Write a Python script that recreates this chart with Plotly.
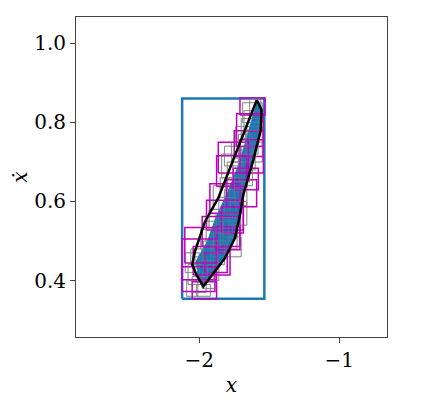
import plotly.graph_objects as go

# Outer (blue) enclosing box
outer_x = [-2.122, -1.535]
outer_y = [0.354, 0.861]

# Magenta boxes: x0, x1, y0, y1
mag_x0 = [-1.709, -1.733, -1.750, -1.864, -1.709, -1.876, -1.757, -1.924, -1.804, -1.948, -1.979, -1.840, -2.103, -2.122, -2.043, -2.122, -2.050, -1.876, -1.960]
mag_x1 = [-1.530, -1.542, -1.542, -1.649, -1.542, -1.661, -1.578, -1.709, -1.590, -1.685, -1.709, -1.685, -1.876, -1.876, -1.780, -1.888, -1.876, -1.709, -1.800]
mag_y0 = [0.819, 0.739, 0.714, 0.672, 0.672, 0.638, 0.630, 0.570, 0.587, 0.528, 0.486, 0.520, 0.444, 0.402, 0.414, 0.372, 0.354, 0.478, 0.420]
mag_y1 = [0.862, 0.822, 0.779, 0.750, 0.756, 0.716, 0.684, 0.645, 0.655, 0.603, 0.562, 0.587, 0.534, 0.505, 0.486, 0.435, 0.397, 0.537, 0.470]

# Grey boxes: x0, x1, y0, y1
grey_x0 = [-1.69, -1.70, -1.66, -1.72, -1.63, -1.84, -1.80, -1.76, -1.82, -1.72, -1.90, -1.86, -1.82, -1.78, -1.88,
           -1.95, -1.90, -1.85, -1.80, -1.97, -2.10, -2.08, -2.05, -2.00, -1.96, -2.02, -2.09, -1.94,
           -1.68, -1.64, -1.74, -1.77, -1.70, -1.85, -1.81, -1.93, -1.88, -1.83, -1.99, -1.92, -2.06, -2.03, -1.98, -1.91, -1.75, -1.67]
grey_x1 = [-1.55, -1.58, -1.55, -1.62, -1.55, -1.72, -1.68, -1.64, -1.70, -1.60, -1.78, -1.74, -1.70, -1.66, -1.76,
           -1.83, -1.78, -1.73, -1.70, -1.87, -2.00, -1.97, -1.95, -1.90, -1.87, -1.92, -2.01, -1.86,
           -1.57, -1.56, -1.64, -1.66, -1.62, -1.75, -1.71, -1.83, -1.79, -1.73, -1.90, -1.82, -1.98, -1.94, -1.89, -1.81, -1.66, -1.58]
grey_y0 = [0.80, 0.76, 0.74, 0.72, 0.70, 0.66, 0.63, 0.65, 0.69, 0.68, 0.58, 0.55, 0.57, 0.54, 0.52,
           0.49, 0.47, 0.48, 0.46, 0.45, 0.42, 0.39, 0.37, 0.40, 0.43, 0.36, 0.36, 0.40,
           0.78, 0.82, 0.74, 0.70, 0.64, 0.61, 0.60, 0.53, 0.50, 0.51, 0.48, 0.44, 0.44, 0.41, 0.38, 0.46, 0.59, 0.72]
grey_y1 = [0.85, 0.81, 0.79, 0.77, 0.75, 0.72, 0.70, 0.71, 0.74, 0.73, 0.64, 0.61, 0.63, 0.60, 0.57,
           0.55, 0.52, 0.54, 0.51, 0.50, 0.47, 0.44, 0.41, 0.45, 0.47, 0.39, 0.40, 0.44,
           0.83, 0.86, 0.79, 0.75, 0.70, 0.66, 0.66, 0.58, 0.56, 0.56, 0.53, 0.49, 0.48, 0.46, 0.42, 0.50, 0.65, 0.78]

# Filled reachable region (blue)
fill_x = [-1.589, -1.630, -1.710, -1.800, -1.880, -1.940, -2.020, -2.010, -1.970, -1.911, -1.816, -1.744, -1.709, -1.685, -1.613, -1.565, -1.560, -1.589]
fill_y = [0.850, 0.800, 0.700, 0.620, 0.560, 0.500, 0.450, 0.415, 0.390, 0.414, 0.457, 0.508, 0.566, 0.617, 0.706, 0.780, 0.830, 0.850]

# Black trajectory loop
loop_x = [-1.589, -1.864, -1.959, -2.031, -2.050, -2.019, -1.971, -1.911, -1.816, -1.744, -1.709, -1.685, -1.613, -1.560, -1.555, -1.589]
loop_y = [0.857, 0.609, 0.549, 0.473, 0.440, 0.414, 0.385, 0.414, 0.457, 0.508, 0.566, 0.617, 0.706, 0.781, 0.832, 0.857]

x_range = [-2.88, -0.659]
y_range = [0.257, 1.067]
x_ticks = [-2, -1]
y_ticks = [0.4, 0.6, 0.8, 1.0]


def boxes_path(x0s, x1s, y0s, y1s):
    xs, ys = [], []
    for a, b, c, d in zip(x0s, x1s, y0s, y1s):
        xs += [a, b, b, a, a, None]
        ys += [c, c, d, d, c, None]
    return xs, ys


fig = go.Figure()

gx, gy = boxes_path(grey_x0, grey_x1, grey_y0, grey_y1)
mx, my = boxes_path(mag_x0, mag_x1, mag_y0, mag_y1)
ox, oy = boxes_path([outer_x[0]], [outer_x[1]], [outer_y[0]], [outer_y[1]])

fig.add_trace(go.Scatter(x=ox, y=oy, mode="lines", line=dict(color="#1f77b4", width=2.5), hoverinfo="skip"))
fig.add_trace(go.Scatter(x=gx, y=gy, mode="lines", line=dict(color="#8c8c8c", width=1), hoverinfo="skip"))
fig.add_trace(go.Scatter(x=fill_x, y=fill_y, mode="lines", fill="toself", fillcolor="#1f77b4",
                         line=dict(color="#1f77b4", width=1), hoverinfo="skip"))
fig.add_trace(go.Scatter(x=mx, y=my, mode="lines", line=dict(color="#bf00bf", width=1.5), hoverinfo="skip"))
fig.add_trace(go.Scatter(x=gx, y=gy, mode="lines", line=dict(color="rgba(140,140,140,0.25)", width=1), hoverinfo="skip"))
fig.add_trace(go.Scatter(x=loop_x, y=loop_y, mode="lines", line=dict(color="black", width=2.5), hoverinfo="skip"))

font_family = "DejaVu Serif"
fs = 20

fig.update_layout(
    width=423, height=408,
    margin=dict(l=68, r=44, t=9, b=79),
    paper_bgcolor="white", plot_bgcolor="white",
    showlegend=False,
    font=dict(family=font_family, size=fs, color="black"),
)
fig.update_xaxes(range=x_range, tickvals=x_ticks, ticktext=["\u22122", "\u22121"], automargin=False,
                 showgrid=False, zeroline=False, showline=True, mirror=True,
                 linecolor="#444444", linewidth=1, ticks="outside", ticklen=5, tickcolor="#444444",
                 tickfont=dict(family=font_family, size=fs),
                 title=dict(text="<i>x</i>", font=dict(family=font_family, size=fs), standoff=6))
fig.update_yaxes(range=y_range, tickvals=y_ticks, ticktext=["0.4", "0.6", "0.8", "1.0"], automargin=False,
                 showgrid=False, zeroline=False, showline=True, mirror=True,
                 linecolor="#444444", linewidth=1, ticks="outside", ticklen=5, tickcolor="#444444",
                 tickfont=dict(family=font_family, size=fs),
                 title=dict(text="<i>x\u0307</i>", font=dict(family=font_family, size=fs), standoff=16))

fig.write_html("out.html")
